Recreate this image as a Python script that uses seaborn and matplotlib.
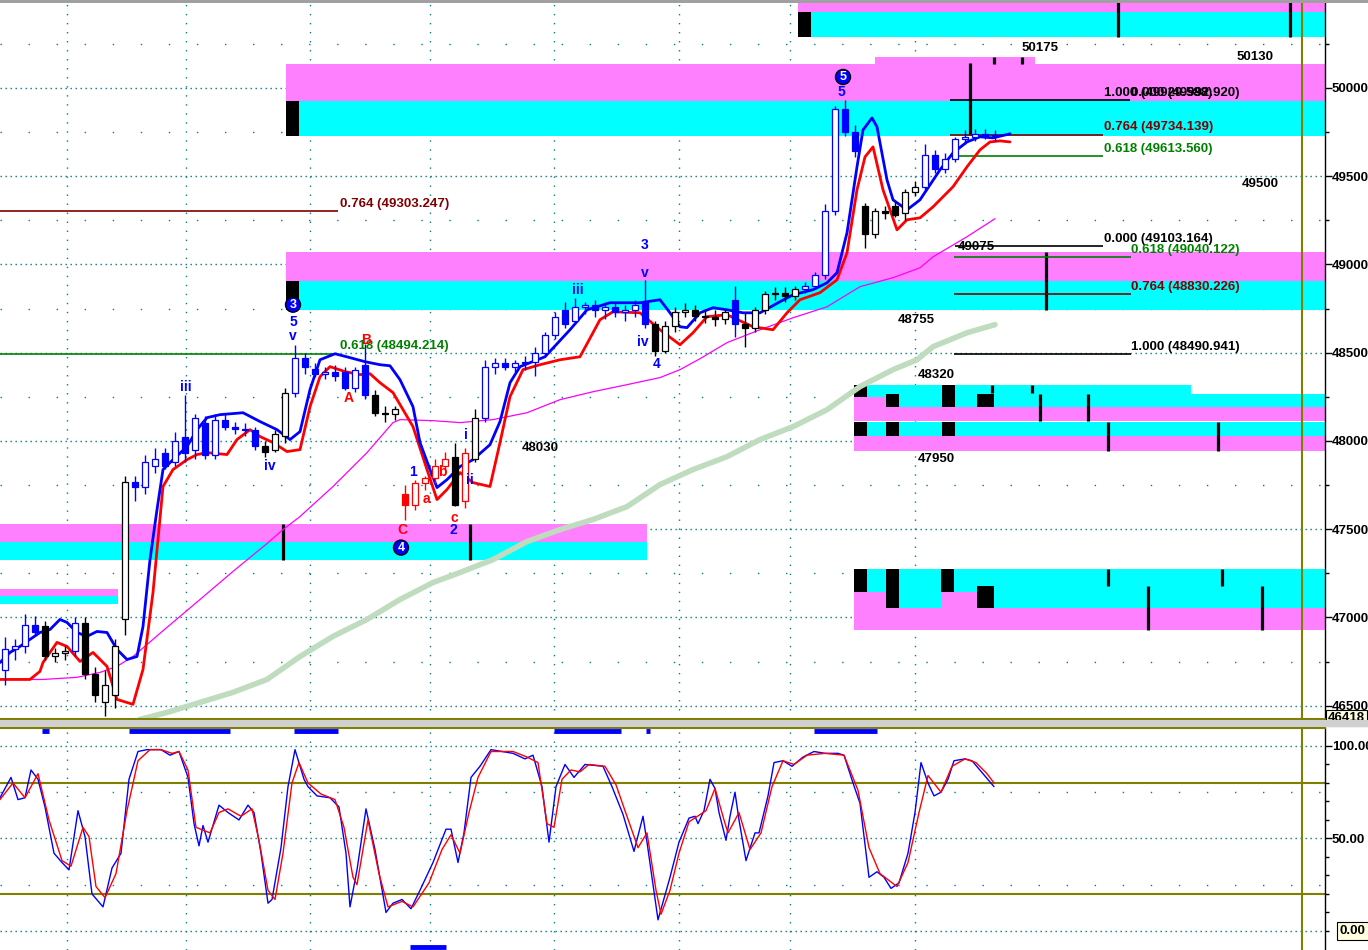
import numpy as np
import pandas as pd
import seaborn as sns
import matplotlib.pyplot as plt
from matplotlib.patches import Rectangle

sns.set_theme(style="white")
plt.rcParams['font.family'] = ['Liberation Sans', 'DejaVu Sans']

# price bars, one every 10 time units (x = 5, 15, 25, ...)
opens = [46700, 46820, 46840, 46960, 46950, 46780, 46800, 46810, 46970, 46680,
         46520, 46560, 46990, 47770, 47740, 47860, 47930, 47880, 48020, 47950,
         48100, 47920, 48120, 48080, 48070, 48060, 47970, 47950, 48030, 48270,
         48470, 48410, 48380, 48390, 48390, 48300, 48430, 48260, 48160, 48150,
         47700, 47640, 47760, 47790, 47860, 47910, 47660, 47900, 48130, 48420,
         48440, 48420, 48440, 48450, 48500, 48600, 48740, 48680, 48760, 48770,
         48740, 48760, 48730, 48740, 48790, 48660, 48510, 48650, 48730, 48740,
         48710, 48700, 48690, 48800, 48660, 48640, 48740, 48830, 48840, 48820,
         48860, 48880, 48940, 49300, 49880, 49750, 49330, 49170, 49300, 49330,
         49290, 49410, 49440, 49620, 49540, 49600, 49710, 49720, 49740, 49730]
highs = [46890, 46880, 47020, 47010, 46980, 46830, 46840, 47000, 47000, 46720,
         46700, 46880, 47800, 47800, 47920, 47960, 47960, 48050, 48262, 48150,
         48140, 48150, 48150, 48110, 48100, 48080, 48000, 48060, 48300, 48545,
         48500, 48440, 48420, 48430, 48420, 48420, 48550, 48290, 48200, 48200,
         47750, 47780, 47800, 47900, 47940, 47990, 47960, 48180, 48460, 48470,
         48470, 48460, 48480, 48530, 48620, 48730, 48790, 48810, 48790, 48800,
         48790, 48790, 48770, 48800, 48910, 48680, 48680, 48760, 48780, 48770,
         48750, 48740, 48750, 48880, 48730, 48760, 48850, 48870, 48870, 48880,
         48900, 48960, 49340, 49900, 49932, 49790, 49350, 49320, 49330, 49360,
         49430, 49470, 49680, 49650, 49630, 49720, 49760, 49770, 49770, 49760]
lows = [46620, 46760, 46800, 46900, 46760, 46750, 46760, 46780, 46650, 46520,
        46440, 46490, 46900, 47660, 47700, 47820, 47840, 47860, 47880, 47900,
        47900, 47900, 48060, 48040, 48030, 47950, 47910, 47940, 47990, 48250,
        48380, 48360, 48350, 48340, 48290, 48280, 48240, 48140, 48110, 48120,
        47555, 47610, 47720, 47760, 47840, 47630, 47620, 47880, 48110, 48380,
        48400, 48390, 48400, 48370, 48480, 48580, 48640, 48660, 48720, 48700,
        48690, 48700, 48680, 48700, 48640, 48480, 48500, 48620, 48700, 48680,
        48670, 48650, 48660, 48590, 48533, 48620, 48720, 48800, 48790, 48800,
        48840, 48860, 48920, 49280, 49730, 49610, 49094, 49150, 49260, 49270,
        49250, 49390, 49420, 49520, 49520, 49580, 49680, 49700, 49710, 49700]
closes = [46820, 46840, 46960, 46920, 46780, 46800, 46810, 46970, 46680, 46560,
          46620, 46840, 47770, 47740, 47880, 47900, 47860, 48000, 47930, 48130,
          47920, 48120, 48080, 48070, 48060, 47970, 47940, 48040, 48270, 48470,
          48420, 48380, 48390, 48370, 48300, 48400, 48260, 48160, 48150, 48180,
          47640, 47760, 47790, 47860, 47900, 47640, 47930, 48130, 48420, 48440,
          48420, 48440, 48450, 48500, 48600, 48700, 48660, 48760, 48770, 48740,
          48760, 48730, 48740, 48770, 48660, 48510, 48650, 48730, 48740, 48710,
          48700, 48690, 48730, 48660, 48640, 48740, 48830, 48840, 48820, 48860,
          48880, 48940, 49300, 49880, 49750, 49640, 49170, 49300, 49290, 49280,
          49410, 49440, 49620, 49540, 49600, 49710, 49720, 49740, 49730, 49735]
# wave colouring of the bars: first bar of each run and its colour
run_starts = [0, 4, 7, 8, 13, 26, 29, 37, 40, 45, 46, 47, 48, 65, 73, 74, 80, 86, 92]
run_colors = ['blue', 'black', 'blue', 'black', 'blue', 'black', 'blue', 'black', 'red', 'black',
              'red', 'black', 'blue', 'black', 'blue', 'black', 'blue', 'black', 'blue']

# indicator lines on the price pane
fast_x = [0, 10, 20, 30, 40, 50, 60, 67, 77, 87, 97, 107, 117, 127, 137, 143, 150, 157, 163, 173,
          187, 197, 207, 220, 243, 260, 277, 290, 300, 310, 320, 335, 350, 365, 380, 390, 400, 413, 420, 430,
          437, 447, 460, 473, 490, 500, 510, 520, 545, 570, 587, 610, 640, 660, 670, 680, 687, 700, 713, 727,
          743, 760, 780, 793, 813, 827, 837, 847, 857, 863, 872, 877, 887, 893, 907, 920, 940, 953, 967, 980,
          993, 1010]
fast_p = [46745, 46802, 46836, 46876, 46915, 46932, 46989, 46972, 46915, 46893,
          46921, 46915, 46819, 46762, 46779, 46949, 47328, 47611, 47838, 47894,
          47968, 48064, 48132, 48149, 48160, 48110, 48064, 48008, 48053, 48291,
          48460, 48494, 48472, 48449, 48432, 48426, 48347, 48194, 47991, 47838,
          47736, 47781, 47855, 47894, 47979, 48110, 48330, 48421, 48477, 48630,
          48743, 48783, 48783, 48800, 48726, 48647, 48642, 48726, 48755, 48743,
          48726, 48726, 48789, 48828, 48857, 48896, 48953, 49179, 49553, 49762,
          49830, 49779, 49479, 49366, 49309, 49366, 49536, 49632, 49694, 49723,
          49717, 49740]
slow_x = [0, 30, 40, 43, 57, 67, 80, 93, 107, 117, 133, 143, 153, 163, 173, 187, 197, 207, 227, 237,
          250, 260, 273, 287, 300, 310, 320, 330, 345, 360, 370, 380, 393, 413, 427, 437, 447, 460, 473, 490,
          500, 510, 523, 540, 560, 580, 600, 613, 640, 660, 680, 693, 707, 727, 753, 773, 787, 800, 820, 837,
          847, 857, 865, 873, 883, 897, 907, 920, 933, 953, 967, 980, 990, 1000, 1010]
slow_p = [46649, 46649, 46695, 46745, 46859, 46836, 46751, 46802, 46723, 46536,
          46508, 46706, 47142, 47742, 47838, 47894, 47923, 47934, 47923, 48008,
          48064, 48025, 47991, 47940, 47951, 48194, 48364, 48421, 48393, 48376,
          48381, 48330, 48274, 48081, 47838, 47668, 47725, 47821, 47764, 47742,
          47991, 48251, 48404, 48432, 48460, 48477, 48687, 48732, 48726, 48630,
          48545, 48613, 48704, 48715, 48647, 48630, 48726, 48800, 48840, 48913,
          49066, 49423, 49609, 49666, 49423, 49196, 49253, 49264, 49326, 49440,
          49553, 49649, 49694, 49700, 49694]
ma_x = [0, 43, 77, 100, 117, 133, 167, 200, 233, 267, 283, 300, 333, 367, 393, 400, 433, 460, 493, 527,
        560, 593, 627, 660, 680, 700, 727, 760, 793, 827, 860, 893, 920, 933, 967, 995]
ma_p = [46649, 46649, 46661, 46689, 46723, 46779, 46944, 47102, 47261, 47419,
        47498, 47572, 47742, 47934, 48104, 48121, 48115, 48104, 48121, 48160,
        48234, 48279, 48319, 48359, 48404, 48466, 48557, 48630, 48698, 48760,
        48874, 48925, 48981, 49043, 49157, 49259]
long_x = [140, 167, 233, 267, 300, 333, 367, 400, 433, 460, 493, 527, 560, 593, 627, 660, 693, 727,
          760, 793, 827, 860, 893, 917, 933, 967, 995]
long_p = [46423, 46462, 46576, 46649, 46779, 46893, 46989, 47102, 47198, 47255, 47328, 47430, 47498,
          47555, 47628, 47753, 47838, 47911, 48008, 48081, 48177, 48308, 48404, 48460, 48534, 48613, 48659]

# support / resistance zones: x from, x to, price low, price high, kind
zone_x0 = [0, 0, 0, 0, 286, 286, 286, 286, 286, 286, 798, 798, 798, 875,
           854, 1191, 854, 854, 854, 886, 942, 977, 854, 854, 854, 886, 942,
           854, 854, 854, 941, 854, 886, 941, 977]
zone_x1 = [118, 118, 647, 647, 1325, 1325, 299, 1325, 1325, 299, 1325, 1325, 811, 1035,
           1191, 1325, 1325, 886, 867, 899, 955, 994, 1325, 1325, 867, 899, 955,
           1325, 1325, 886, 977, 867, 899, 954, 994]
zone_lo = [47119, 47074, 47430, 47328, 49926, 49728, 49728, 48908, 48743, 48743, 50430, 50289, 50289, 50136,
           48194, 48194, 48115, 48194, 48251, 48194, 48194, 48194, 48030, 47945, 48030, 48030, 48030,
           47051, 46932, 47051, 47051, 47147, 47051, 47147, 47051]
zone_hi = [47164, 47119, 47532, 47430, 50136, 49926, 49926, 49072, 48908, 48908, 50520, 50430, 50430, 50175,
           48319, 48268, 48194, 48251, 48319, 48268, 48319, 48268, 48110, 48030, 48110, 48110, 48110,
           47272, 47051, 47147, 47147, 47272, 47272, 47272, 47176]
zone_kind = ['pink', 'cyan', 'pink', 'cyan', 'pink', 'cyan', 'black', 'pink', 'cyan', 'black',
             'pink', 'cyan', 'black', 'pink',
             'cyan', 'cyan', 'pink', 'pink', 'black', 'black', 'black', 'black',
             'cyan', 'pink', 'black', 'black', 'black',
             'cyan', 'pink', 'pink', 'pink', 'black', 'black', 'black', 'black']

# thick black marker bars: x, price low, price high
mark_x = [283, 470, 1046, 970, 1118, 1290, 1040, 1088, 1108, 1218, 1108, 1222, 1148, 1262, 994, 1022, 992, 1032]
mark_lo = [47328, 47328, 48743, 49734, 50289, 50289, 48115, 48115, 47945, 47945, 47176, 47176, 46932, 46932,
           50136, 50136, 48274, 48274]
mark_hi = [47532, 47532, 49072, 50142, 50520, 50520, 48268, 48268, 48110, 48110, 47272, 47272, 47176, 47176,
           50175, 50175, 48319, 48319]

# fibonacci levels
fib_x0 = [0, 0, 950, 950, 950, 955, 954, 954, 954]
fib_x1 = [338, 338, 1130, 1103, 1103, 1103, 1131, 1131, 1131]
fib_ratio = ['0.764', '0.618', '1.000', '0.764', '0.618', '0.000', '0.618', '0.764', '1.000']
fib_price = [49303.247, 48494.214, 49929.588, 49734.139, 49613.560, 49103.164, 49040.122, 48830.226, 48490.941]
fib_text_x = [340, 340, 1104, 1104, 1104, 1104, 1131, 1131, 1131]

# price level notes
note_text = ['50175', '50130', '49500', '49075', '48755', '48320', '47950', '48030']
note_x = [1022, 1237, 1242, 958, 898, 918, 918, 522]
note_p = [50226, 50175, 49457, 49100, 48687, 48376, 47900, 47962]

# elliott wave labels
wave_text = ['3', '5', 'v', 'iii', 'iv', '1', '2', '4', 'i', 'ii', 'iii', '3', 'v', 'iv', '4', '5', '5',
             'B', 'A', 'C', 'a', 'b', 'c']
wave_x = [293, 293, 293, 186, 270, 413, 453, 401, 466, 470, 578, 645, 645, 643, 657, 843, 841,
          366, 349, 402, 426, 442, 454]
wave_p = [48772, 48676, 48596, 48308, 47861, 47827, 47498, 47396, 48036, 47781, 48857, 49111, 48953,
          48562, 48438, 50062, 49977, 48574, 48245, 47493, 47674, 47827, 47566]
wave_ring = [0, 7, 15]

# stochastic pane
stoch_k_x = [0, 11, 18, 25, 31, 38, 45, 54, 62, 69, 78, 85, 92, 103, 112, 121, 129, 138, 147, 161,
             170, 179, 188, 194, 199, 203, 208, 219, 228, 239, 248, 254, 261, 268, 272, 281, 288, 295, 304, 308,
             317, 330, 339, 346, 350, 357, 366, 375, 386, 393, 402, 411, 420, 433, 446, 451, 458, 464, 471, 480,
             491, 513, 525, 533, 542, 549, 556, 565, 574, 585, 603, 612, 623, 634, 643, 647, 658, 670, 679, 689,
             695, 698, 704, 710, 715, 719, 726, 730, 735, 739, 746, 755, 759, 768, 774, 783, 792, 803, 814, 825,
             838, 844, 853, 860, 869, 877, 884, 891, 899, 908, 915, 921, 928, 934, 941, 948, 954, 965, 972, 983,
             994]
stoch_k = [72, 83, 71, 72, 87, 82, 67, 42, 37, 33, 65, 51, 20, 13, 34, 42, 82, 97, 98, 98,
           95, 97, 83, 58, 46, 57, 48, 68, 64, 60, 68, 64, 42, 15, 17, 45, 78, 98, 82, 78,
           73, 72, 67, 42, 13, 33, 66, 44, 10, 15, 17, 12, 22, 37, 55, 55, 37, 53, 83, 89,
           98, 96, 93, 95, 78, 48, 78, 90, 83, 90, 89, 78, 63, 43, 62, 48, 6, 29, 48, 61,
           62, 58, 65, 82, 77, 64, 49, 62, 75, 60, 38, 53, 53, 73, 91, 92, 89, 94, 97, 96,
           96, 95, 80, 69, 29, 32, 29, 23, 26, 42, 64, 91, 80, 73, 75, 82, 92, 93, 92, 85,
           78]
stoch_d_x = [0, 13, 25, 38, 49, 62, 71, 83, 89, 96, 105, 116, 127, 138, 150, 161, 172, 179, 188, 196,
             210, 219, 228, 241, 252, 259, 268, 275, 283, 292, 299, 308, 321, 335, 344, 353, 357, 368, 379, 388,
             402, 413, 429, 442, 451, 460, 469, 478, 491, 513, 527, 538, 547, 554, 562, 571, 580, 589, 605, 616,
             625, 638, 647, 656, 661, 670, 679, 689, 706, 715, 724, 728, 739, 750, 761, 772, 783, 794, 807, 825,
             844, 858, 869, 880, 897, 908, 919, 928, 941, 952, 965, 976, 987, 994]
stoch_d = [71, 80, 72, 85, 60, 38, 35, 56, 51, 24, 18, 31, 65, 92, 98, 98, 96, 97, 87, 56,
           53, 64, 66, 62, 66, 49, 22, 17, 42, 80, 91, 80, 74, 71, 56, 29, 25, 60, 31, 13,
           16, 13, 26, 44, 52, 42, 64, 83, 97, 97, 94, 91, 58, 56, 82, 87, 86, 90, 89, 79,
           65, 45, 53, 22, 9, 22, 42, 59, 65, 77, 60, 53, 64, 44, 53, 78, 92, 90, 95, 96,
           95, 76, 45, 31, 24, 37, 64, 84, 75, 89, 93, 91, 85, 80]
flag_top = [(42, 49), (129, 230), (294, 338), (554, 621), (646, 650), (814, 877)]
flag_bottom = [(410, 446)]

grid_x = [67, 186, 310, 430, 554, 679, 790, 915]

BLUE, RED, OLIVE, TEAL = '#0000ff', '#ff0000', '#808000', '#008080'
zone_colors = {'pink': '#ff80ff', 'cyan': '#00ffff', 'black': '#000000'}
bar_palette = {'blue': BLUE, 'red': RED, 'black': '#000000'}
fib_colors = {'0.764': '#800000', '0.618': '#008000', '1.000': '#000000', '0.000': '#000000'}
bold = dict(fontweight='bold', fontsize=9.5)

bars = pd.DataFrame({'open': opens, 'high': highs, 'low': lows, 'close': closes})
bars['x'] = np.arange(len(bars)) * 10 + 5
bars['color'] = [run_colors[max(j for j, s in enumerate(run_starts) if s <= i)] for i in range(len(bars))]

W, H = 1368, 950
fig = plt.figure(figsize=(13.68, 9.5), dpi=100, facecolor='white')
ax = fig.add_axes([0, 231 / H, 1325 / W, 716 / H])
ax2 = fig.add_axes([0, 0, 1325 / W, 222 / H])

# ---------- price pane
ax.set_xlim(0, 1325)
ax.set_ylim(46425, 50481)
for p in np.arange(46500, 50001, 500):
    ax.axhline(p, color=TEAL, lw=1, ls=(0, (1, 2.6)), zorder=0.5)
for p in np.arange(46750, 50251, 500):
    ax.axhline(p, color=TEAL, lw=1, ls=(0, (1, 19.2)), zorder=0.5)
for gx in grid_x:
    ax.axvline(gx, color=TEAL, lw=1, ls=(0, (1, 5.5)), zorder=0.5)

for x0, x1, lo, hi, kind in zip(zone_x0, zone_x1, zone_lo, zone_hi, zone_kind):
    ax.add_patch(Rectangle((x0, lo), x1 - x0, hi - lo, fc=zone_colors[kind], ec='none',
                           zorder=1.5 if kind == 'black' else 1))
ax.vlines(mark_x, mark_lo, mark_hi, color='black', lw=2.3, zorder=2)

for x0, x1, r, p, tx in zip(fib_x0, fib_x1, fib_ratio, fib_price, fib_text_x):
    c = fib_colors[r]
    ax.hlines(p, x0, x1, color=c, lw=1.2, zorder=2)
    ax.annotate(f'{r} ({p:.3f})', (tx, p), xytext=(0, 1), textcoords='offset points',
                ha='left', va='bottom', color=c, zorder=6, **bold)
ax.annotate('0.000 (49992.920)', (1131, 49929.588), xytext=(0, 1), textcoords='offset points',
            ha='left', va='bottom', color='black', zorder=6, **bold)

sns.lineplot(x=long_x, y=long_p, ax=ax, color='#bfdcbf', linewidth=4, estimator=None, zorder=2.5)
sns.lineplot(x=ma_x, y=ma_p, ax=ax, color='#ff00ff', linewidth=0.9, estimator=None, zorder=2.6)
sns.lineplot(x=slow_x, y=slow_p, ax=ax, color=RED, linewidth=2, estimator=None, zorder=3)
sns.lineplot(x=fast_x, y=fast_p, ax=ax, color=BLUE, linewidth=2, estimator=None, zorder=3.1)

for _, b in bars.iterrows():
    c = bar_palette[b['color']]
    ax.vlines(b['x'], b['low'], b['high'], color=c, lw=1, zorder=4)
    lo_b, hi_b = min(b['open'], b['close']), max(b['open'], b['close'])
    face = 'white' if b['close'] >= b['open'] else c
    ax.add_patch(Rectangle((b['x'] - 3, lo_b), 6, max(hi_b - lo_b, 6), fc=face, ec=c, lw=0.9, zorder=4.5))

for t, x, p in zip(note_text, note_x, note_p):
    ax.text(x, p, t, ha='left', va='center', color='black', zorder=6, **bold)

for i, (t, x, p) in enumerate(zip(wave_text, wave_x, wave_p)):
    c = BLUE if i < 17 else RED
    if i in wave_ring:
        ax.text(x, p, t, ha='center', va='center', color='white', fontsize=9, fontweight='bold', zorder=7,
                bbox=dict(boxstyle='circle,pad=0.12', fc=BLUE, ec='black', lw=1))
    else:
        ax.text(x, p, t, ha='center', va='center', color=c, fontsize=10, fontweight='bold', zorder=7)

ax.axvline(1302, color=OLIVE, lw=1.5, zorder=5)
ax.yaxis.tick_right()
ax.set_yticks(np.arange(46500, 50001, 500))
ax.set_yticks(np.arange(46750, 50251, 500), minor=True)
ax.tick_params(axis='y', which='major', right=True, left=False, length=5, width=1, pad=0,
               labelsize=9.5, colors='black', direction='out')
ax.tick_params(axis='y', which='minor', right=True, left=False, length=3, width=1, colors='black', direction='out')
ax.tick_params(axis='x', bottom=False, labelbottom=False)
for t in ax.get_yticklabels():
    t.set_fontweight('bold')
ax.set_xlabel('')
ax.set_ylabel('')
for s in ['left', 'top']:
    ax.spines[s].set_visible(False)
ax.spines['right'].set_color('black')
ax.spines['right'].set_linewidth(1)
ax.spines['bottom'].set_color(OLIVE)
ax.spines['bottom'].set_linewidth(1.5)

# ---------- stochastic pane
ax2.set_xlim(0, 1325)
ax2.set_ylim(-10.3, 109.7)
for v in [0, 50, 100]:
    ax2.axhline(v, color=TEAL, lw=1, ls=(0, (1, 2.6)), zorder=0.5)
for v in [25, 75]:
    ax2.axhline(v, color=TEAL, lw=1, ls=(0, (1, 19.2)), zorder=0.5)
for gx in grid_x:
    ax2.axvline(gx, color=TEAL, lw=1, ls=(0, (1, 5.5)), zorder=0.5)
for v in [20, 80]:
    ax2.axhline(v, color=OLIVE, lw=1.5, zorder=1)
ax2.axvline(1302, color=OLIVE, lw=1.5, zorder=1)

sns.lineplot(x=stoch_k_x, y=stoch_k, ax=ax2, color=BLUE, linewidth=1, estimator=None, zorder=3)
sns.lineplot(x=stoch_d_x, y=stoch_d, ax=ax2, color=RED, linewidth=1, estimator=None, zorder=3.1)
for x0, x1 in flag_top:
    ax2.hlines(108.2, x0, x1, color=BLUE, lw=3.5, zorder=4)
for x0, x1 in flag_bottom:
    ax2.hlines(-8.6, x0, x1, color=BLUE, lw=3.5, zorder=4)

ax2.yaxis.tick_right()
ax2.set_yticks([50, 100])
ax2.set_yticklabels(['50.00', '100.00'])
ax2.set_yticks(np.arange(0, 101, 10), minor=True)
ax2.tick_params(axis='y', which='major', right=True, left=False, length=5, width=1, pad=0,
                labelsize=9.5, colors='black', direction='out')
ax2.tick_params(axis='y', which='minor', right=True, left=False, length=3, width=1, colors='black', direction='out')
ax2.tick_params(axis='x', bottom=False, labelbottom=False)
for t in ax2.get_yticklabels():
    t.set_fontweight('bold')
ax2.set_xlabel('')
ax2.set_ylabel('')
for s in ['left', 'bottom']:
    ax2.spines[s].set_visible(False)
ax2.spines['right'].set_color('black')
ax2.spines['right'].set_linewidth(1)
ax2.spines['top'].set_color(OLIVE)
ax2.spines['top'].set_linewidth(1.5)

# window chrome: top border, pane separator, value boxes
fig.text(1328 / W, (H - 718) / H, '46418', ha='left', va='center', color='black', zorder=5,
         bbox=dict(boxstyle='square,pad=0.15', fc='#ffffe0', ec='black', lw=0.8), **bold)
fig.text(1340 / W, (H - 931) / H, '0.00', ha='left', va='center', color='black', zorder=5,
         bbox=dict(boxstyle='square,pad=0.25', fc='#ffffe0', ec='black', lw=0.8), **bold)
fig.add_artist(Rectangle((0, 222.8 / H), 1, 7.5 / H, transform=fig.transFigure, fc='#d0d0d0', ec='none', zorder=10))
fig.add_artist(Rectangle((0, 947.5 / H), 1, 2.5 / H, transform=fig.transFigure, fc='#a0a0a0', ec='none', zorder=10))

fig.savefig('out.png', dpi=100)
